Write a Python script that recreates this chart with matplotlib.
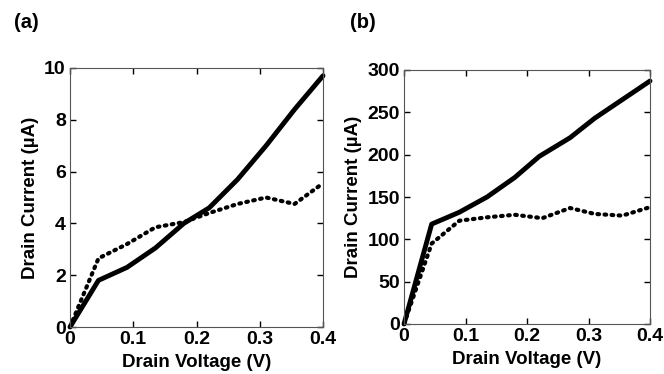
import matplotlib
matplotlib.use("Agg")
import matplotlib.pyplot as plt

plt.rcParams['font.family'] = ['Liberation Sans', 'DejaVu Sans']
plt.rcParams['font.weight'] = 'bold'

# Panel (a)
xa_solid = [0, 0.045, 0.09, 0.135, 0.18, 0.22, 0.265, 0.31, 0.355, 0.4]
ya_solid = [0, 1.8, 2.3, 3.05, 4.0, 4.6, 5.7, 7.0, 8.4, 9.7]
xa_dot = [0, 0.045, 0.09, 0.135, 0.18, 0.22, 0.265, 0.31, 0.355, 0.4]
ya_dot = [0, 2.65, 3.2, 3.85, 4.05, 4.4, 4.75, 5.0, 4.75, 5.55]

# Panel (b)
xb_solid = [0, 0.045, 0.09, 0.135, 0.18, 0.22, 0.27, 0.31, 0.355, 0.4]
yb_solid = [0, 118, 132, 150, 173, 198, 220, 243, 265, 287]
xb_dot = [0, 0.045, 0.09, 0.135, 0.18, 0.225, 0.27, 0.31, 0.355, 0.4]
yb_dot = [0, 95, 122, 126, 129, 125, 137, 130, 128, 138]

x_ticks = [0, 0.1, 0.2, 0.3, 0.4]
x_ticklabels = ['0', '0.1', '0.2', '0.3', '0.4']
ya_ticks = [0, 2, 4, 6, 8, 10]
yb_ticks = [0, 50, 100, 150, 200, 250, 300]

fig = plt.figure(figsize=(6.64, 3.74), dpi=100)
W, H = 664, 374
axa = fig.add_axes([70 / W, 1 - 327 / H, (323 - 70) / W, (327 - 68) / H])
axb = fig.add_axes([404 / W, 1 - 324 / H, (650 - 404) / W, (324 - 70) / H])

def style(ax, yt):
    ax.set_xlim(0, 0.4)
    ax.set_xticks(x_ticks)
    ax.set_xticklabels(x_ticklabels)
    ax.set_yticks(yt)
    ax.set_ylim(yt[0], yt[-1])
    ax.tick_params(direction='in', top=True, right=True, length=4, width=1,
                   labelsize=14, pad=3)
    for s in ax.spines.values():
        s.set_linewidth(0.8)
        s.set_color('#555555')
    ax.set_xlabel('Drain Voltage (V)', fontsize=13.5, fontweight='bold', labelpad=4.5)
    ax.set_ylabel('Drain Current (\u00b5A)', fontsize=13.5, fontweight='bold', labelpad=4)

axa.plot(xa_solid, ya_solid, color='black', lw=3.5, solid_capstyle='round', clip_on=False)
axa.plot(xa_dot, ya_dot, color='black', lw=3, linestyle=(0, (0.4, 1.3)),
         dash_capstyle='round', clip_on=False)
style(axa, ya_ticks)

axb.plot(xb_solid, yb_solid, color='black', lw=3.5, solid_capstyle='round', clip_on=False)
axb.plot(xb_dot, yb_dot, color='black', lw=3, linestyle=(0, (0.4, 1.3)),
         dash_capstyle='round', clip_on=False)
style(axb, yb_ticks)

fig.text(14 / W, 1 - 23 / H, '(a)', fontsize=14.5, fontweight='bold', va='center', ha='left')
fig.text(350 / W, 1 - 23 / H, '(b)', fontsize=14.5, fontweight='bold', va='center', ha='left')

fig.savefig('out.png', dpi=100)
